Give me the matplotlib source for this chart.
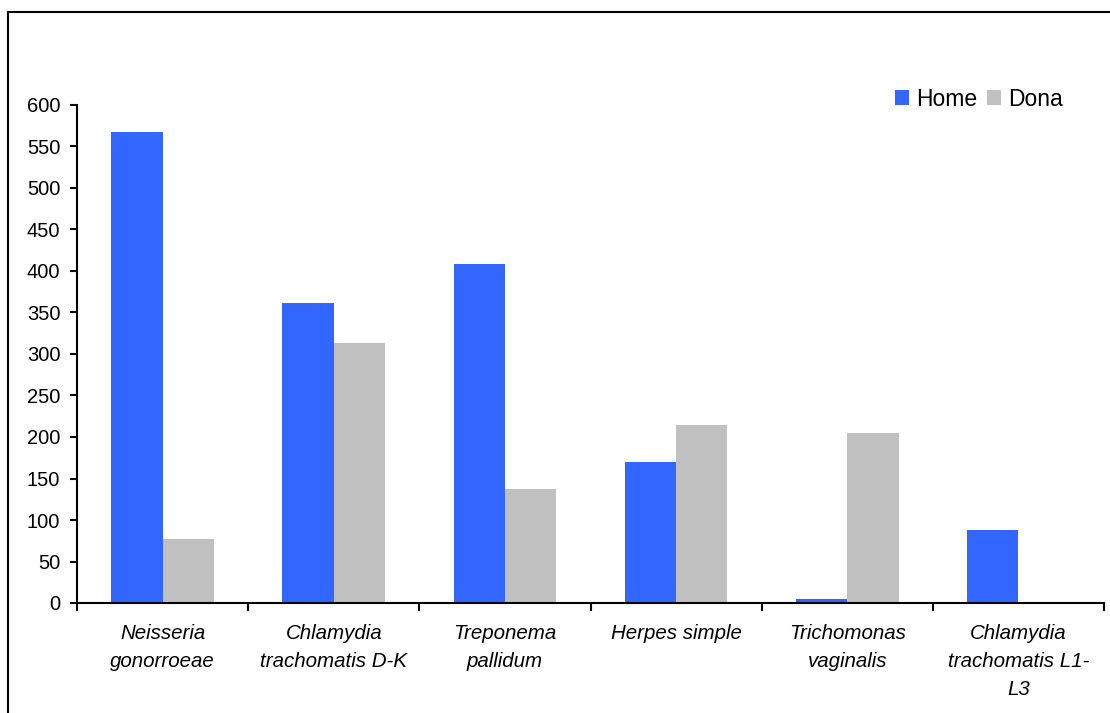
import matplotlib
matplotlib.use("Agg")
import matplotlib.pyplot as plt
from matplotlib.patches import Rectangle, Patch
import numpy as np

plt.rcParams['font.family'] = ['Liberation Sans', 'DejaVu Sans']

categories = [
    "Neisseria\ngonorroeae",
    "Chlamydia\ntrachomatis D-K",
    "Treponema\npallidum",
    "Herpes simple",
    "Trichomonas\nvaginalis",
    "Chlamydia\ntrachomatis L1-\nL3",
]
home = [567, 362, 408, 170, 5, 88]
dona = [77, 313, 137, 214, 205, 0]
series_names = ["Home", "Dona"]
colors = ["#3366FF", "#C0C0C0"]
y_ticks = list(range(0, 601, 50))

W, H = 1110, 713
fig = plt.figure(figsize=(W / 100, H / 100), dpi=100)

# outer chart-area frame (runs past the right and bottom edges)
fig.patches.append(Rectangle((8 / W, -0.1), 1.2, 1 - 12 / H + 0.1,
                             transform=fig.transFigure, fill=False,
                             edgecolor="black", linewidth=1.5))

ax = fig.add_axes([77 / W, 1 - 603 / H, (1104 - 77) / W, (603 - 105) / H])

x = np.arange(len(categories))
bw = 0.3
ax.bar(x - bw / 2, home, width=bw, color=colors[0], label=series_names[0])
ax.bar(x + bw / 2, dona, width=bw, color=colors[1], label=series_names[1])

ax.set_xlim(-0.5, len(categories) - 0.5)
ax.set_ylim(0, 600)
ax.set_yticks(y_ticks)
ax.tick_params(axis="y", direction="out", length=5, width=1.5, pad=7,
               labelsize=14.5)

# category boundaries carry the tick marks, names sit at the centres
ax.set_xticks(np.arange(-0.5, len(categories), 1.0))
ax.set_xticklabels([])
ax.tick_params(axis="x", which="major", direction="out", length=6, width=1.5)
ax.set_xticks(x, minor=True)
ax.set_xticklabels(categories, minor=True, fontstyle="italic", fontsize=14.8,
                   linespacing=1.6)
ax.tick_params(axis="x", which="minor", length=0, pad=15)

for side in ["top", "right"]:
    ax.spines[side].set_visible(False)
for side in ["left", "bottom"]:
    ax.spines[side].set_linewidth(1.5)

handles = [Patch(facecolor=c, edgecolor="none") for c in colors]
fig.legend(handles, series_names, loc="center left",
           bbox_to_anchor=(895 / W, 1 - 99 / H), ncol=2, frameon=False,
           fontsize=16.5, handlelength=0.6, handleheight=0.6,
           handletextpad=0.3, columnspacing=0.45, borderpad=0, borderaxespad=0)

fig.savefig("out.png", dpi=100)
